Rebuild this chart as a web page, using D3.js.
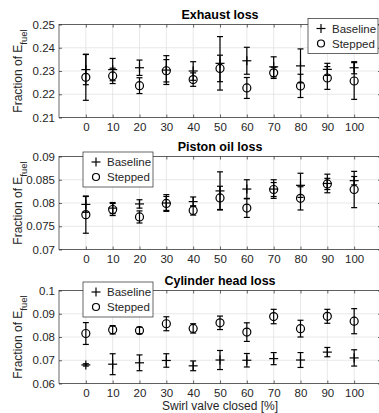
<!DOCTYPE html>
<html><head><meta charset="utf-8">
<script src="https://cdn.jsdelivr.net/npm/d3@7"></script>
<style>body{margin:0;background:#fff}svg{display:block}text{font-family:"Liberation Sans",Arial,Helvetica,sans-serif}</style>
</head><body><svg id="c" width="379" height="413"></svg>
<script>
// ---------- data ----------
const swirl = [0, 10, 20, 30, 40, 50, 60, 70, 80, 90, 100];
const xTickLabels = ["0","10","20","30","40","50","60","70","80","90","100"];

const exhaustBaseline    = [0.2306,0.2306,0.2314,0.2304,0.2300,0.2333,0.2344,0.2318,0.2322,0.2307,0.2314];
const exhaustBaselineErr = [0.0065,0.0048,0.0033,0.0062,0.0040,0.0115,0.0058,0.0043,0.0073,0.0026,0.0026];
const exhaustStepped     = [0.2273,0.2279,0.2237,0.2301,0.2263,0.2311,0.2227,0.2292,0.2236,0.2270,0.2257];
const exhaustSteppedErr  = [0.0099,0.0033,0.0034,0.0048,0.0029,0.0057,0.0045,0.0024,0.0050,0.0049,0.0079];
const exhaustYTicks = [0.21,0.22,0.23,0.24,0.25];
const exhaustYLabels = ["0.21","0.22","0.23","0.24","0.25"];

const pistonBaseline    = [0.0797,0.0789,0.0798,0.0800,0.0803,0.0826,0.0830,0.0830,0.0838,0.0842,0.0848];
const pistonBaselineErr = [0.0017,0.0012,0.0009,0.0018,0.0010,0.0041,0.0020,0.0020,0.0026,0.0020,0.0009];
const pistonStepped     = [0.0775,0.0786,0.0770,0.0799,0.0784,0.0811,0.0789,0.0829,0.0810,0.0841,0.0829];
const pistonSteppedErr  = [0.0040,0.0013,0.0013,0.0015,0.0010,0.0025,0.0020,0.0015,0.0025,0.0012,0.0039];
const pistonYTicks = [0.07,0.075,0.08,0.085,0.09];
const pistonYLabels = ["0.07","0.075","0.08","0.085","0.09"];

const headBaseline    = [0.0680,0.0683,0.0689,0.0699,0.0676,0.0701,0.0700,0.0707,0.0701,0.0735,0.0710];
const headBaselineErr = [0.0005,0.0045,0.0034,0.0029,0.0021,0.0041,0.0029,0.0026,0.0032,0.0020,0.0035];
const headStepped     = [0.0815,0.0831,0.0828,0.0857,0.0837,0.0861,0.0821,0.0888,0.0836,0.0889,0.0868];
const headSteppedErr  = [0.0047,0.0018,0.0014,0.0030,0.0020,0.0029,0.0040,0.0031,0.0036,0.0030,0.0054];
const headYTicks = [0.06,0.07,0.08,0.09,0.1];
const headYLabels = ["0.06","0.07","0.08","0.09","0.1"];

const titles = ["Exhaust loss","Piston oil loss","Cylinder head loss"];
const legendLabels = ["Baseline","Stepped"];
const xLabel = "Swirl valve closed [%]";

// ---------- layout ----------
const svg = d3.select("#c");
const left = 59, right = 381;
const tops = [24.5, 156.5, 290.5];
const ph = 93;
const axisColor = "#262626";

const x = d3.scaleLinear().domain([-10, 110]).range([left, right]);

const panels = [
  {title: titles[0], b: exhaustBaseline, be: exhaustBaselineErr, s: exhaustStepped, se: exhaustSteppedErr,
   yd: [0.21, 0.25], yt: exhaustYTicks, yl: exhaustYLabels, lx: 308, ly: 18.5},
  {title: titles[1], b: pistonBaseline, be: pistonBaselineErr, s: pistonStepped, se: pistonSteppedErr,
   yd: [0.07, 0.09], yt: pistonYTicks, yl: pistonYLabels, lx: 83, ly: 152},
  {title: titles[2], b: headBaseline, be: headBaselineErr, s: headStepped, se: headSteppedErr,
   yd: [0.06, 0.1], yt: headYTicks, yl: headYLabels, lx: 83, ly: 282}
];

panels.forEach((p, i) => {
  const top = tops[i], bottom = top + ph;
  const y = d3.scaleLinear().domain(p.yd).range([bottom, top]);
  const g = svg.append("g");

  // grid
  g.append("g").selectAll("line").data(swirl).join("line")
    .attr("x1", d => x(d)).attr("x2", d => x(d)).attr("y1", top).attr("y2", bottom)
    .attr("stroke", "#e2e2e2").attr("stroke-width", 0.8);
  g.append("g").selectAll("line").data(p.yt).join("line")
    .attr("x1", left).attr("x2", right).attr("y1", d => y(d)).attr("y2", d => y(d))
    .attr("stroke", "#e2e2e2").attr("stroke-width", 0.8);

  // axes
  const ax = g.append("g").attr("transform", `translate(0,${bottom})`)
    .call(d3.axisBottom(x).tickValues(swirl).tickFormat((d, k) => xTickLabels[k]).tickSizeInner(-3).tickSizeOuter(0).tickPadding(5));
  const ay = g.append("g").attr("transform", `translate(${left},0)`)
    .call(d3.axisLeft(y).tickValues(p.yt).tickFormat((d, k) => p.yl[k]).tickSizeInner(-3).tickSizeOuter(0).tickPadding(4));
  const axT = g.append("g").attr("transform", `translate(0,${top})`)
    .call(d3.axisTop(x).tickValues(swirl).tickFormat("").tickSizeInner(-3).tickSizeOuter(0));
  const ayR = g.append("g").attr("transform", `translate(${right},0)`)
    .call(d3.axisRight(y).tickValues(p.yt).tickFormat("").tickSizeInner(-3).tickSizeOuter(0));
  [ax, ay, axT, ayR].forEach(a => {
    a.select(".domain").remove();
    a.selectAll("line").attr("stroke", axisColor).attr("stroke-width", 0.7);
    a.selectAll("text").attr("fill", axisColor).style("font-size", "11.5px");
  });
  g.append("rect").attr("x", left).attr("y", top).attr("width", right - left).attr("height", ph)
    .attr("fill", "none").attr("stroke", axisColor).attr("stroke-width", 0.7);

  // title
  g.append("text").attr("x", (left + right) / 2).attr("y", top - 6)
    .attr("text-anchor", "middle").attr("font-weight", "bold").style("font-size", "12.5px")
    .attr("fill", "#000").text(p.title);

  // y label
  const yl = g.append("text").attr("transform", `translate(22,${(top + bottom) / 2}) rotate(-90)`)
    .attr("text-anchor", "middle").attr("fill", axisColor).style("font-size", "12px");
  yl.append("tspan").text("Fraction of E");
  yl.append("tspan").attr("dy", 5).style("font-size", "9.5px").text("fuel");

  // error bars + markers
  const cap = 3;
  const drawErr = (vals, errs) => {
    const eg = g.append("g").attr("stroke", "#000").attr("stroke-width", 1.2).attr("fill", "none");
    swirl.forEach((sx, k) => {
      const cx = x(sx), lo = y(vals[k] - errs[k]), hi = y(vals[k] + errs[k]);
      eg.append("line").attr("x1", cx).attr("x2", cx).attr("y1", lo).attr("y2", hi);
      eg.append("line").attr("x1", cx - cap).attr("x2", cx + cap).attr("y1", lo).attr("y2", lo);
      eg.append("line").attr("x1", cx - cap).attr("x2", cx + cap).attr("y1", hi).attr("y2", hi);
    });
  };
  drawErr(p.b, p.be);
  const mg = g.append("g").attr("stroke", "#000").attr("stroke-width", 1.2).attr("fill", "none");
  swirl.forEach((sx, k) => {
    const cx = x(sx), cy = y(p.b[k]);
    mg.append("line").attr("x1", cx - 4.5).attr("x2", cx + 4.5).attr("y1", cy).attr("y2", cy);
    mg.append("line").attr("x1", cx).attr("x2", cx).attr("y1", cy - 4.5).attr("y2", cy + 4.5);
  });
  drawErr(p.s, p.se);
  const sg = g.append("g").attr("stroke", "#000").attr("stroke-width", 1.2).attr("fill", "none");
  swirl.forEach((sx, k) => {
    sg.append("circle").attr("cx", x(sx)).attr("cy", y(p.s[k])).attr("r", 4);
  });

  // legend
  const lx = p.lx, ly = p.ly;
  const lw = 70, lh = 35;
  const lg = g.append("g");
  lg.append("rect").attr("x", lx).attr("y", ly).attr("width", lw).attr("height", lh)
    .attr("fill", "#fff").attr("stroke", axisColor).attr("stroke-width", 0.7);
  const r1 = ly + 10, r2 = ly + 25, mx = lx + 13;
  lg.append("line").attr("x1", mx - 4.5).attr("x2", mx + 4.5).attr("y1", r1).attr("y2", r1).attr("stroke", "#000").attr("stroke-width", 1.2);
  lg.append("line").attr("x1", mx).attr("x2", mx).attr("y1", r1 - 4.5).attr("y2", r1 + 4.5).attr("stroke", "#000").attr("stroke-width", 1.2);
  lg.append("circle").attr("cx", mx).attr("cy", r2).attr("r", 3.5).attr("fill", "none").attr("stroke", "#000").attr("stroke-width", 1.2);
  lg.append("text").attr("x", lx + 24).attr("y", r1 + 4).attr("fill", axisColor).style("font-size", "11.5px").text(legendLabels[0]);
  lg.append("text").attr("x", lx + 24).attr("y", r2 + 4).attr("fill", axisColor).style("font-size", "11.5px").text(legendLabels[1]);
});

// x label
svg.append("text").attr("x", (left + right) / 2).attr("y", 410)
  .attr("text-anchor", "middle").attr("fill", axisColor).style("font-size", "12px").text(xLabel);
</script>
</body></html>
